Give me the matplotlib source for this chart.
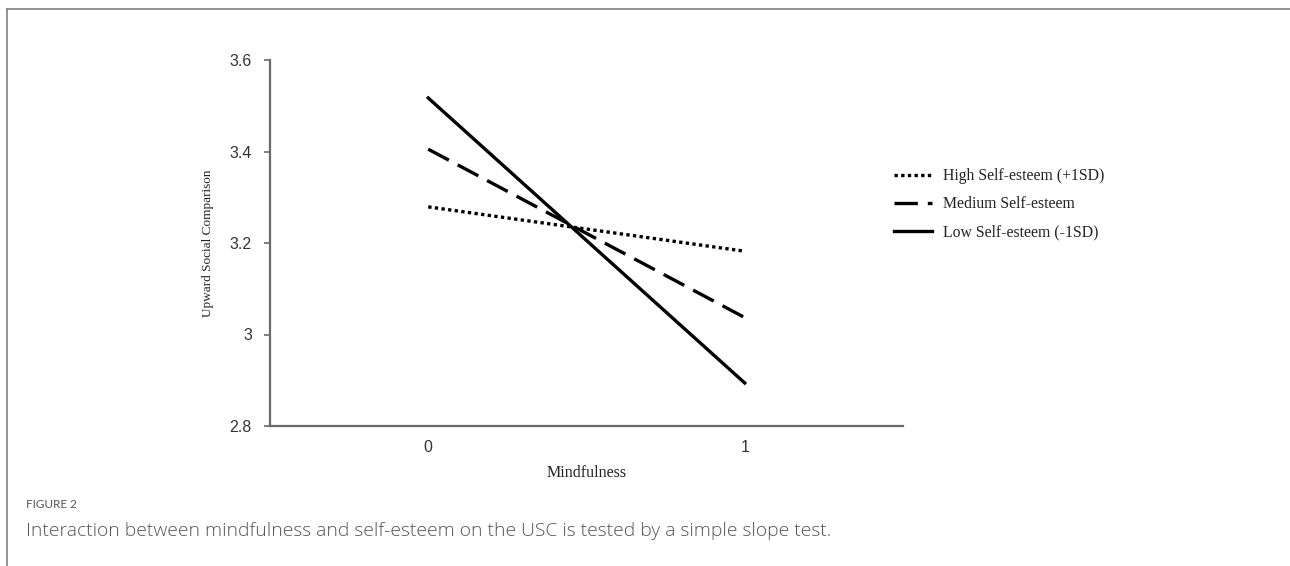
import matplotlib
matplotlib.use("Agg")
import matplotlib.pyplot as plt
from matplotlib.lines import Line2D

x_levels = [0, 1]
x_ticklabels = ["0", "1"]
high_se = [3.279, 3.182]
medium_se = [3.405, 3.037]
low_se = [3.517, 2.894]
series_labels = ["High Self-esteem (+1SD)", "Medium Self-esteem", "Low Self-esteem (-1SD)"]
y_ticks = [2.8, 3.0, 3.2, 3.4, 3.6]
y_ticklabels = ["2.8", "3", "3.2", "3.4", "3.6"]

fig = plt.figure(figsize=(12.9, 5.66), dpi=100)
ax = fig.add_axes([270/1290, 1-426/566, (903-270)/1290, (426-60)/566])

lw = 2.4
ax.plot(x_levels, high_se, color="black", lw=lw, linestyle=(0, (1, 1)), dash_capstyle="butt", label=series_labels[0])
ax.plot(x_levels, medium_se, color="black", lw=lw, linestyle=(0, (7, 3)), dash_capstyle="butt", label=series_labels[1])
ax.plot(x_levels, low_se, color="black", lw=lw, linestyle="-", label=series_labels[2])

ax.set_xlim(-0.5, 1.5)
ax.set_ylim(2.8, 3.6)
ax.set_xticks(x_levels)
ax.set_xticklabels(x_ticklabels)
ax.set_yticks(y_ticks)
ax.set_yticklabels(y_ticklabels)
for s in ["top", "right"]:
    ax.spines[s].set_visible(False)
for s in ["left", "bottom"]:
    ax.spines[s].set_color("#6a6a6a")
    ax.spines[s].set_linewidth(1.6)
ax.tick_params(axis="x", length=0, pad=10, labelsize=11.5, labelcolor="#333333")
ax.tick_params(axis="y", length=4, width=1.2, color="#6a6a6a", pad=9, labelsize=11.5, labelcolor="#333333")
for t in ax.get_xticklabels() + ax.get_yticklabels():
    t.set_fontfamily("Liberation Sans")

ax.set_xlabel("Mindfulness", fontfamily="Liberation Serif", fontsize=11.5, color="#222222", labelpad=7)
ax.set_ylabel("Upward Social Comparison", fontfamily="Liberation Serif", fontsize=9.5, color="#222222", labelpad=11)

leg = ax.legend(loc="upper left", bbox_to_anchor=(880/1290, 1-154/566), bbox_transform=fig.transFigure,
                frameon=False, handlelength=2.4, handletextpad=0.7, labelspacing=0.78,
                prop={"family": "Liberation Serif", "size": 11.3})
for t in leg.get_texts():
    t.set_color("#222222")

# frame lines
fig.add_artist(Line2D([7/1290, 1], [1-9/566, 1-9/566], transform=fig.transFigure, color="#8a8a8a", lw=1.3))
fig.add_artist(Line2D([7/1290, 7/1290], [0, 1-9/566], transform=fig.transFigure, color="#8a8a8a", lw=1.3))

fig.text(26/1290, 1-505/566, "FIGURE 2", fontfamily="Lato", fontsize=8.5, color="#555555", va="center", ha="left")
fig.text(26/1290, 1-531/566, "Interaction between mindfulness and self-esteem on the USC is tested by a simple slope test.",
         fontfamily="Open Sans", fontsize=13.9, color="#555555", va="center", ha="left", fontweight="light")

fig.savefig("out.png", dpi=100)
